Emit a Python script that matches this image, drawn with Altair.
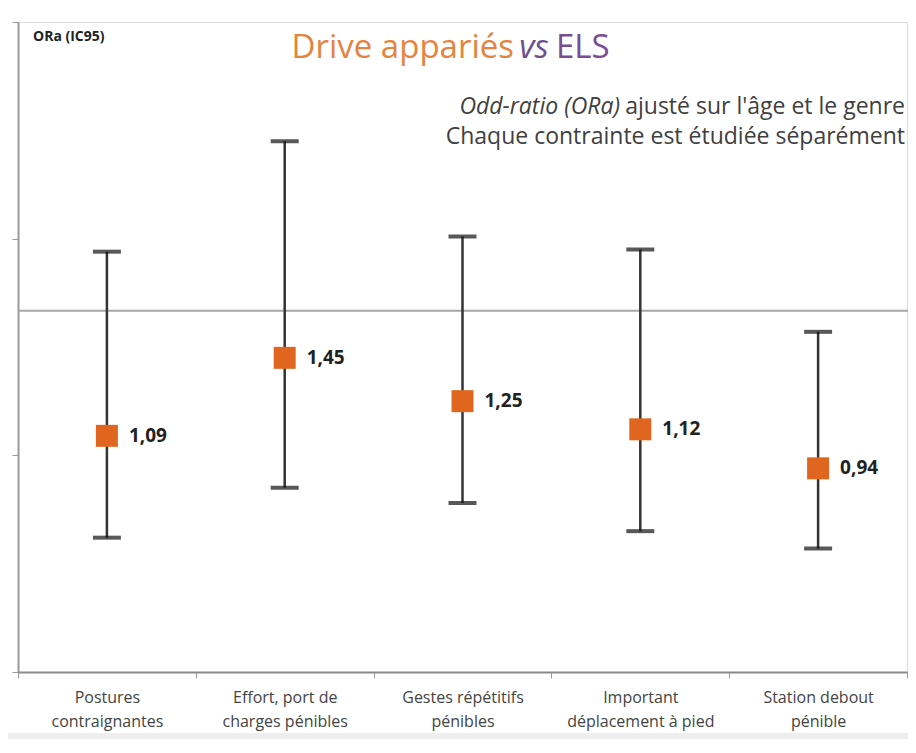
import altair as alt
import pandas as pd

# ---- data ----
cat_lines = [
    ["Postures", "contraignantes", "pénibles"],
    ["Effort, port de", "charges pénibles"],
    ["Gestes répétitifs", "pénibles"],
    ["Important", "déplacement à pied", "pénible"],
    ["Station debout", "pénible"],
]
categories = ["\n".join(c) for c in cat_lines]
or_values = [1.09, 1.45, 1.25, 1.12, 0.94]
or_labels = ["1,09", "1,45", "1,25", "1,12", "0,94"]
ci_low = [0.62, 0.85, 0.78, 0.65, 0.57]
ci_high = [1.94, 2.45, 2.01, 1.95, 1.57]
ref_value = [1.667]
y_ticks = [0, 1, 2, 3]

W, H = 889, 650
FONT = "Open Sans"

df = pd.DataFrame({
    "cat": categories,
    "ora": or_values,
    "lab": or_labels,
    "lo": ci_low,
    "hi": ci_high,
})

xenc = alt.X(
    "cat:N", sort=categories, title=None,
    scale=alt.Scale(paddingInner=0, paddingOuter=0),
    axis=alt.Axis(
        labelAngle=0, tickBand="extent", tickSize=6, tickColor="#9a9a9a",
        domainColor="#8a8a8a", domainWidth=2, labelColor="#444444",
        labelFont=FONT, labelFontSize=16, labelLineHeight=24,
        labelPadding=11, labelExpr="split(datum.label, '\\n')",
        labelBaseline="top", zindex=1,
    ),
)
yscale = alt.Scale(domain=[0, 3], nice=False, zero=True)
yenc_axis = alt.Axis(
    values=y_ticks, labels=False, tickSize=6, tickColor="#9a9a9a",
    domainColor="#9a9a9a", domainWidth=2, grid=False, title=None,
)

base = alt.Chart(df)

# bottom grey band (screenshot strip)
band = alt.Chart(pd.DataFrame({"a": [0]})).mark_rect(color="#eeeeee").encode(
    x=alt.value(-20), x2=alt.value(W + 30), y=alt.value(711), y2=alt.value(760)
)

ref = alt.Chart(pd.DataFrame({"r": ref_value})).mark_rule(
    color="#a6a6a6", strokeWidth=2
).encode(
    y=alt.Y("r:Q", scale=yscale, axis=yenc_axis),
    x=alt.value(0), x2=alt.value(W + 20),
)

whisk = base.mark_rule(color="#333333", strokeWidth=2.5).encode(
    x=xenc, y=alt.Y("lo:Q", scale=yscale, axis=yenc_axis), y2="hi:Q"
)
cap_hi = base.mark_tick(color="#111111", thickness=4, size=28, orient="horizontal").encode(
    x=xenc, y=alt.Y("hi:Q", scale=yscale)
)
cap_lo = base.mark_tick(color="#111111", thickness=4, size=28, orient="horizontal").encode(
    x=xenc, y=alt.Y("lo:Q", scale=yscale)
)
pts = base.mark_square(color="#e0661f", size=484, opacity=1).encode(
    x=xenc, y=alt.Y("ora:Q", scale=yscale)
)
labs = base.mark_text(
    align="left", baseline="middle", dx=22, font=FONT, fontSize=19,
    fontWeight="bold", color="#222222"
).encode(x=xenc, y=alt.Y("ora:Q", scale=yscale), text="lab:N")

def txt(s, x, y, **kw):
    return alt.Chart(pd.DataFrame({"t": [s]})).mark_text(font=FONT, **kw).encode(
        x=alt.value(x), y=alt.value(y), text="t:N"
    )

ann = [
    txt("ORa (IC95)", 15, 19, align="left", baseline="alphabetic", fontSize=14,
        fontWeight="bold", color="#222222"),
    txt("Drive appariés", 496, 36, align="right", baseline="alphabetic",
        fontSize=33, color="#e5843f"),
    txt("vs", 516, 36, align="center", baseline="alphabetic", fontSize=33,
        fontStyle="italic", color="#6e4f8e"),
    txt("ELS", 538, 36, align="left", baseline="alphabetic", fontSize=33,
        color="#7a4c92"),
    txt("Odd-ratio (ORa)", 602, 92, align="right", baseline="alphabetic",
        fontSize=23, fontStyle="italic", color="#404040"),
    txt("ajusté sur l'âge et le genre", 887, 92, align="right",
        baseline="alphabetic", fontSize=23, color="#404040"),
    txt("Chaque contrainte est étudiée séparément", 887, 122, align="right",
        baseline="alphabetic", fontSize=23, color="#404040"),
]

chart = alt.layer(band, ref, whisk, cap_hi, cap_lo, pts, labs, *ann).properties(
    width=W, height=H,
    autosize=alt.AutoSizeParams(type="none"),
    padding={"left": 10, "top": 14, "right": 1, "bottom": 67},
).configure_view(stroke=None).configure(background="white")

chart.save("out.html", embed_options={"renderer": "svg", "actions": False})
